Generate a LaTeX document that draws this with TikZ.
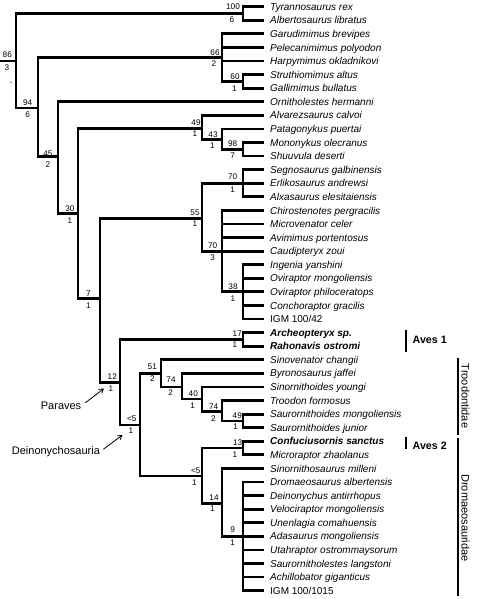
\documentclass[tikz,border=0pt]{standalone}
\usepackage{fontspec}
\setmainfont{Liberation Sans}
\usetikzlibrary{arrows.meta}
\begin{document}
\begin{tikzpicture}[x=1pt,y=-1pt,
  branch/.style={line width=2.8pt, line cap=rect, line join=miter},
  taxon/.style={anchor=base west, inner sep=0pt, font=\fontsize{10}{12}\selectfont\itshape},
  support/.style={inner sep=0pt, font=\fontsize{8.2}{9}\selectfont},
  cladebar/.style={line width=2pt},
  cladename/.style={inner sep=0pt, font=\fontsize{11}{13}\selectfont},
  avesname/.style={inner sep=0pt, font=\fontsize{10.7}{13}\selectfont\bfseries},
  groupname/.style={inner sep=0pt, font=\fontsize{11}{13}\selectfont},
  pointer/.style={line width=0.8pt, -{Straight Barb[length=4pt,width=5pt]}}
]
\useasboundingbox (0,0) rectangle (476,599);
\fill[white] (0,0) rectangle (476,599);

% leaves
\foreach \name [count=\i] in {
  Tyrannosaurus rex, Albertosaurus libratus, Garudimimus brevipes,
  Pelecanimimus polyodon, Harpymimus okladnikovi, Struthiomimus altus,
  Gallimimus bullatus, Ornitholestes hermanni, Alvarezsaurus calvoi,
  Patagonykus puertai, Mononykus olecranus, Shuuvula deserti,
  Segnosaurus galbinensis, Erlikosaurus andrewsi, Alxasaurus elesitaiensis,
  Chirostenotes pergracilis, Microvenator celer, Avimimus portentosus,
  Caudipteryx zoui, Ingenia yanshini, Oviraptor mongoliensis,
  Oviraptor philoceratops, Conchoraptor gracilis, {\upshape IGM 100/42},
  {\bfseries Archeopteryx sp.}, {\bfseries Rahonavis ostromi},
  Sinovenator changii, Byronosaurus jaffei, Sinornithoides youngi,
  Troodon formosus, Saurornithoides mongoliensis, Saurornithoides junior,
  {\bfseries Confuciusornis sanctus}, Microraptor zhaolanus,
  Sinornithosaurus milleni, Dromaeosaurus albertensis,
  Deinonychus antirrhopus, Velociraptor mongoliensis,
  Unenlagia comahuensis, Adasaurus mongoliensis,
  Utahraptor ostrommaysorum, Saurornitholestes langstoni,
  Achillobator giganticus, {\upshape IGM 100/1015}}
{
  \pgfmathsetmacro\yy{6.7+(\i-1)*13.58}
  \coordinate (t\i) at (263,\yy);
  \node[taxon] (l\i) at (270,\yy+3.6) {\name};
}

% internal nodes
\coordinate (base) at (0,61);
\coordinate (root) at (16,61);
\coordinate (n100) at (243,13.5);
\coordinate (n94) at (38,108);
\coordinate (n66) at (222,57.7);
\coordinate (n60) at (243,81.4);
\coordinate (n45) at (58,156.7);
\coordinate (n30) at (78,213.3);
\coordinate (n49) at (202,128.3);
\coordinate (n43) at (222,139.5);
\coordinate (n98) at (243,149.3);
\coordinate (n7) at (100,298.3);
\coordinate (n55) at (202,218.3);
\coordinate (n70a) at (243,183.24);
\coordinate (n70b) at (222,251.14);
\coordinate (n38) at (243,291.88);
\coordinate (n12) at (120,382.7);
\coordinate (n17) at (243,339.4);
\coordinate (nD) at (140,425);
\coordinate (n51) at (161,373.3);
\coordinate (n74a) at (182,386.9);
\coordinate (n40) at (202,399);
\coordinate (n74b) at (222,411.7);
\coordinate (n49b) at (243,420.9);
\coordinate (nL) at (202,476);
\coordinate (n13) at (243,448);
\coordinate (n14) at (222,503.3);
\coordinate (n9) at (243,536.32);

% branches
\foreach \p/\c in {base/root, root/n100, root/n94,
  n100/t1, n100/t2,
  n94/n66, n94/n45,
  n66/t3, n66/t4, n66/t5, n66/n60,
  n60/t6, n60/t7,
  n45/t8, n45/n30,
  n30/n49, n30/n7,
  n49/t9, n49/n43,
  n43/t10, n43/n98,
  n98/t11, n98/t12,
  n7/n55, n7/n12,
  n55/n70a, n55/n70b,
  n70a/t13, n70a/t14, n70a/t15,
  n70b/t16, n70b/t17, n70b/t18, n70b/t19, n70b/n38,
  n38/t20, n38/t21, n38/t22, n38/t23, n38/t24,
  n12/n17, n12/nD,
  n17/t25, n17/t26,
  nD/n51, nD/nL,
  n51/t27, n51/n74a,
  n74a/t28, n74a/n40,
  n40/t29, n40/n74b,
  n74b/t30, n74b/n49b,
  n49b/t31, n49b/t32,
  nL/n13, nL/n14,
  n13/t33, n13/t34,
  n14/t35, n14/n9,
  n9/t36, n9/t37, n9/t38, n9/t39, n9/t40, n9/t41, n9/t42, n9/t43, n9/t44}
  \draw[branch] (\p) |- (\c);

% support values
\foreach \nm/\xx/\yy/\tx in {
  s86/7.3/55/86, b86/7/67.7/3,
  s100/233/6.7/100, b100/232/19.3/6,
  s94/27.7/102.7/94, b94/27.7/114.3/6,
  s66/215/52.3/66, b66/214/63.3/2,
  s60/235/76.7/60, b60/234.3/88.3/1,
  s45/48/153.3/45, b45/48/165/2,
  s30/70/208.3/30, b30/70/220.7/1,
  s49/196/122.3/49, b49/195/133.3/1,
  s43/213/134.3/43, b43/212.3/145.7/1,
  s98/232.7/144/98, b98/232.7/156/7,
  s70a/232.7/176.5/70, b70a/232.7/190/1,
  s55/195/212.7/55, b55/195/224/1,
  s70b/212.7/246/70, b70b/212.7/257.7/3,
  s38/233/287/38, b38/233/299/1,
  s7/88.3/293.5/7, b7/88.3/306/1,
  s12/112.3/376.5/12, b12/111/388.3/1,
  s17/237.3/333.3/17, b17/235/345/1,
  s51/152.3/366.5/51, b51/152.3/378.3/2,
  s74a/171/380/74, b74a/170.7/392.7/2,
  s40/193.3/393.3/40, b40/192.7/405.7/1,
  s74b/213.7/406.3/74, b74b/213.3/418.3/2,
  s49b/237.3/415.5/49, b49b/235.7/426.7/1,
  sD/131.7/418.8/<5, bD/131/430.7/1,
  sL/195.7/470.7/<5, bL/194.3/482.7/1,
  s13/237.7/442.7/13, b13/235/454.3/1,
  s14/214/497.3/14, b14/212.7/509/1,
  s9/232.7/530/9, b9/232.7/542.3/1}
  \node[support] (\nm) at (\xx,\yy) {\tx};

% stray dot
\fill (11,82.3) circle (0.6);

% clade brackets
\coordinate (a1top) at (405.7,330);
\coordinate (a1bot) at (405.7,351.7);
\draw[cladebar] (a1top) -- (a1bot);
\node[avesname, anchor=west] (aves1) at (412.5,340.3) {Aves 1};

\coordinate (a2top) at (405.7,436.5);
\coordinate (a2bot) at (405.7,448.5);
\draw[cladebar] (a2top) -- (a2bot);
\node[avesname, anchor=west] (aves2) at (412.5,445.5) {Aves 2};

\coordinate (trtop) at (457.7,358.3);
\coordinate (trbot) at (457.7,435);
\draw[cladebar] (trtop) -- (trbot);
\node[cladename, rotate=-90] (troo) at (465.5,396) {Troodontidae};

\coordinate (drtop) at (457.7,438);
\coordinate (drbot) at (457.7,596);
\draw[cladebar] (drtop) -- (drbot);
\node[cladename, rotate=-90] (drom) at (465.5,518) {Dromaeosauridae};

% named groups with pointers
\node[groupname, anchor=base west] (paraves) at (40.7,409.5) {Paraves};
\coordinate (paraTip) at (104,388.5);
\draw[pointer, shorten <=5pt] (paraves.east) -- (paraTip);

\node[groupname, anchor=base west] (deino) at (11.7,454.5) {Deinonychosauria};
\coordinate (deinoTip) at (122.5,435);
\draw[pointer, shorten <=4pt] (deino.east) -- (deinoTip);
\end{tikzpicture}
\end{document}
